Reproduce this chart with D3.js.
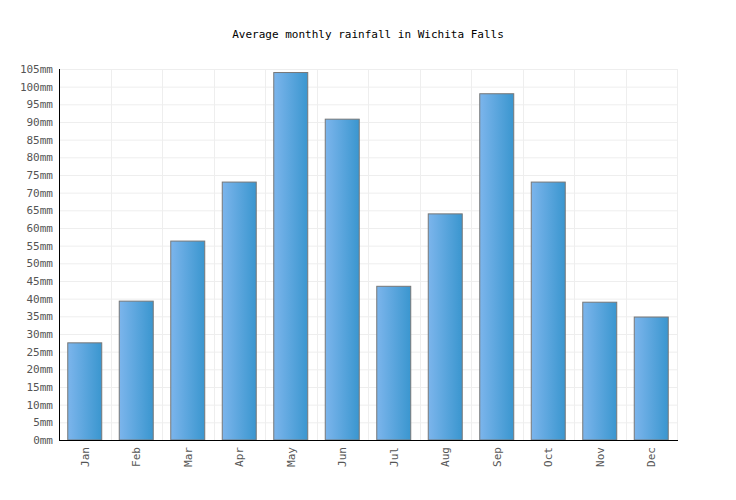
<!DOCTYPE html><html><head><script src="https://cdn.jsdelivr.net/npm/d3@7"></script>
<style>body{margin:0;background:#fff}text{font-family:"DejaVu Sans Mono",monospace}</style></head><body>
<svg id="c" width="736" height="500"></svg>
<script>
const months=["Jan","Feb","Mar","Apr","May","Jun","Jul","Aug","Sep","Oct","Nov","Dec"];
const rainfall=[27.5,39.3,56.3,73,104,90.8,43.5,64,98,73,39,34.8];
const yTicks=d3.range(0,106,5);
const svg=d3.select("#c");
const m={l:59,r:677,t:69,b:440};
const x=d3.scaleBand().domain(months).range([m.l,m.r]).paddingInner(0.34).paddingOuter(0.17);
const xb=d3.scaleBand().domain(months).range([m.l,m.r]);
const y=d3.scaleLinear().domain([0,105]).range([m.b,m.t]);
const g=svg.append("defs").append("linearGradient").attr("id","gr");
g.append("stop").attr("offset","0%").attr("stop-color","#7cb5ec");
g.append("stop").attr("offset","100%").attr("stop-color","#3a96cf");
svg.append("g").selectAll("line").data(yTicks).join("line").attr("x1",m.l).attr("x2",m.r).attr("y1",d=>y(d)+.5).attr("y2",d=>y(d)+.5).attr("stroke","#eee");
svg.append("g").selectAll("line").data(months.concat(["_"])).join("line").attr("x1",(d,i)=>Math.round(m.l+i*xb.bandwidth())+.5).attr("x2",(d,i)=>Math.round(m.l+i*xb.bandwidth())+.5).attr("y1",m.t).attr("y2",m.b).attr("stroke","#eee");
svg.append("g").selectAll("rect").data(rainfall).join("rect").attr("x",(d,i)=>x(months[i])).attr("width",x.bandwidth()).attr("y",d=>y(d)).attr("height",d=>y(0)-y(d)).attr("fill","url(#gr)").attr("stroke","#777").attr("stroke-width",1);
svg.append("g").selectAll("text").data(yTicks).join("text").attr("x",53).attr("y",d=>y(d)+4).attr("text-anchor","end").attr("font-size",11).attr("fill","#555").text(d=>d+"mm");
svg.append("g").selectAll("text").data(months).join("text").attr("transform",d=>`translate(${x(d)+x.bandwidth()/2+4},447) rotate(-90)`).attr("text-anchor","end").attr("font-size",11).attr("fill","#555").text(d=>d);
svg.append("line").attr("x1",m.l+.5).attr("x2",m.l+.5).attr("y1",m.t).attr("y2",m.b).attr("stroke","#000");
svg.append("line").attr("x1",m.l).attr("x2",m.r+1).attr("y1",m.b+.5).attr("y2",m.b+.5).attr("stroke","#000");
svg.append("text").attr("x",368).attr("y",38).attr("text-anchor","middle").attr("font-size",11).attr("fill","#000").text("Average monthly rainfall in Wichita Falls");
</script></body></html>
